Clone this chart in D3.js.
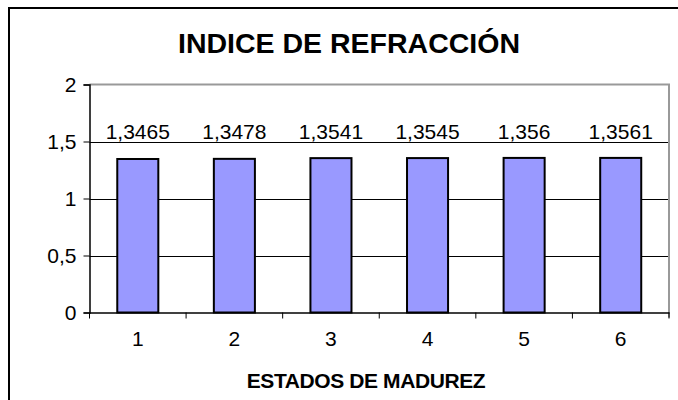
<!DOCTYPE html>
<html><head><meta charset="utf-8">
<script src="https://cdn.jsdelivr.net/npm/d3@7"></script>
<style>body{margin:0;background:#fff}svg{display:block}text{font-family:"Liberation Sans",Arial,sans-serif}</style>
</head><body>
<svg id="c" width="678" height="400"></svg>
<script>
const categories = ["1","2","3","4","5","6"];
const values = [1.3465, 1.3478, 1.3541, 1.3545, 1.356, 1.3561];
const valueLabels = ["1,3465","1,3478","1,3541","1,3545","1,356","1,3561"];
const yTicks = [0, 0.5, 1, 1.5, 2];
const yTickLabels = ["0","0,5","1","1,5","2"];
const title = "INDICE DE REFRACCIÓN";
const xTitle = "ESTADOS DE MADUREZ";

const svg = d3.select("#c");
const L = 89.5, R = 669, T = 84.5, B = 312.5;

// outer frame
svg.append("rect").attr("x",9).attr("y",8).attr("width",700).attr("height",420)
  .attr("fill","#fff").attr("stroke","#000").attr("stroke-width",2);

const x = d3.scaleBand().domain(categories).range([L,R]).paddingInner(0.575).paddingOuter(0.2875);
const xb = d3.scaleBand().domain(categories).range([L,R]);
const y = d3.scaleLinear().domain([0,2]).range([B,T]);

// gridlines
svg.append("g").selectAll("line").data(yTicks.filter(d=>d>0 && d<2)).join("line")
  .attr("x1",L).attr("x2",R).attr("y1",d=>Math.round(y(d))+0.5).attr("y2",d=>Math.round(y(d))+0.5)
  .attr("stroke","#000").attr("stroke-width",1);

// plot border top/right gray
svg.append("path").attr("d",`M${L},${T}H${R}V${B+5}`).attr("fill","none")
  .attr("stroke","#999").attr("stroke-width",2);

// bars
svg.append("g").selectAll("rect").data(values).join("rect")
  .attr("x",(d,i)=>x(categories[i])).attr("width",x.bandwidth())
  .attr("y",d=>y(d)).attr("height",d=>B-y(d))
  .attr("fill","#9999FF").attr("stroke","#000").attr("stroke-width",2);

// value labels
svg.append("g").selectAll("text").data(values).join("text")
  .attr("x",(d,i)=>xb(categories[i])+xb.bandwidth()/2).attr("y",139)
  .attr("text-anchor","middle").attr("font-size",21).text((d,i)=>valueLabels[i]);

// y axis
const yAxis = d3.axisLeft(y).tickValues(yTicks).tickFormat((d,i)=>yTickLabels[i]).tickSize(6).tickPadding(7);
const gy = svg.append("g").attr("transform",`translate(${L},0)`).call(yAxis);
gy.attr("font-size",21).attr("font-family","Liberation Sans, Arial, sans-serif");
gy.select(".domain").attr("stroke","#000").attr("stroke-width",1.5);
gy.selectAll(".tick line").attr("stroke","#000");
gy.selectAll("text").attr("fill","#000");

// x axis
const xAxis = d3.axisBottom(xb).tickSize(0).tickPadding(19);
const gx = svg.append("g").attr("transform",`translate(0,${B})`).call(xAxis);
gx.attr("font-size",21).attr("font-family","Liberation Sans, Arial, sans-serif");
gx.select(".domain").attr("stroke","#000").attr("stroke-width",1.5);
gx.selectAll("text").attr("fill","#000");
// category boundary ticks
svg.append("g").selectAll("line").data(d3.range(categories.length+1)).join("line")
  .attr("x1",i=>L+i*xb.step()).attr("x2",i=>L+i*xb.step())
  .attr("y1",B).attr("y2",B+6).attr("stroke","#000");

// titles
svg.append("text").attr("x",349).attr("y",53).attr("text-anchor","middle")
  .attr("font-size",28.5).attr("font-weight","bold").text(title);
svg.append("text").attr("x",366).attr("y",388).attr("text-anchor","middle")
  .attr("font-size",21).attr("font-weight","bold").attr("letter-spacing",-0.4).text(xTitle);
</script>
</body></html>
